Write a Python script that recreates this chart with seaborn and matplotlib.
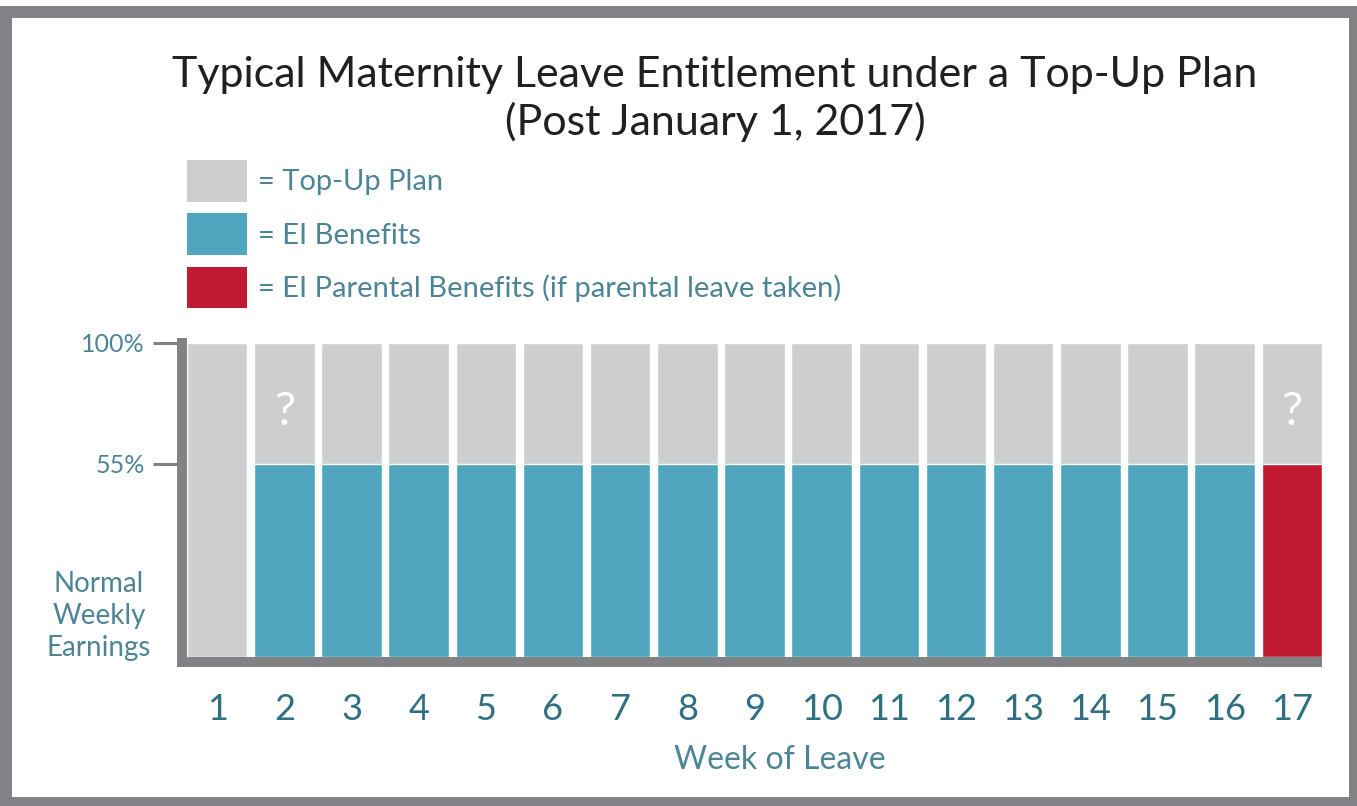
import numpy as np
import pandas as pd
import seaborn as sns
import matplotlib.pyplot as plt
from matplotlib.patches import Patch, Rectangle

weeks = [str(w) for w in range(1, 18)]
topup = [100] * 17
ei_weeks = weeks[1:]
ei_vals = [55] * 16
ei_type = ['EI Benefits'] * 15 + ['EI Parental Benefits']
question_weeks = ['2', '17']
ytick_vals = [55, 100]
ytick_labels = ['55%', '100%']

legend_labels = ['= Top-Up Plan', '= EI Benefits',
                 '= EI Parental Benefits (if parental leave taken)']

gray = '#cdced0'
blue = '#4fa6be'
red = '#bf1a32'
axis_gray = '#808285'
teal = '#2f6f83'
teal_light = '#4d8596'

sns.set_theme(style='white')
plt.rcParams['font.family'] = ['Lato', 'DejaVu Sans']

df_top = pd.DataFrame({'week': weeks, 'pct': topup})
df_ei = pd.DataFrame({'week': ei_weeks, 'pct': ei_vals, 'kind': ei_type})

W, H = 1357, 806
fig = plt.figure(figsize=(W / 100, H / 100), dpi=100)
fig.patch.set_facecolor('white')

# axes placed in pixel terms of the reference
ax = fig.add_axes([187 / W, (H - 657) / H, 1135 / W, 314 / H])

# uneven y axis: 55% sits higher than it would on a linear scale
yn = [-100, 0, 55, 100, 200]
yv = [-100, 0, 61.5, 100, 200]
ax.set_yscale('function', functions=(lambda y: np.interp(y, yn, yv),
                                     lambda y: np.interp(y, yv, yn)))

sns.barplot(data=df_top, x='week', y='pct', order=weeks, color=gray,
            width=0.9, saturation=1, ax=ax)
sns.barplot(data=df_ei, x='week', y='pct', order=weeks, hue='kind',
            palette={'EI Benefits': blue, 'EI Parental Benefits': red},
            dodge=False, width=0.9, saturation=1, legend=False, ax=ax)

for w in question_weeks:
    ax.text(weeks.index(w), (55 + 100) / 2 - 3, '?', color='white',
            fontsize=34, ha='center', va='center', zorder=5)

ax.set_xlim(-0.45, 16.45)
ax.set_ylim(0, 100)
ax.set_facecolor('white')

unit = 16.9 / 1135  # data units per pixel on x
for s in ['top', 'right']:
    ax.spines[s].set_visible(False)
ax.spines['left'].set_position(('outward', 3.6))
ax.spines['bottom'].set_position(('outward', 3.6))
for s in ['left', 'bottom']:
    ax.spines[s].set_color(axis_gray)
    ax.spines[s].set_linewidth(7.2)
ax.spines['bottom'].set_bounds(-0.45 - 10 * unit, 16.45)
ax.spines['bottom'].set_capstyle('butt')
ax.spines['left'].set_capstyle('projecting')

ax.set_yticks(ytick_vals)
ax.set_yticklabels(ytick_labels)
ax.yaxis.set_minor_locator(plt.NullLocator())
ax.tick_params(axis='y', length=21, width=2.2, color=axis_gray, pad=6,
               labelsize=18, labelcolor=teal_light, left=True, direction='out')
ax.tick_params(axis='x', length=0, pad=22, labelsize=26, labelcolor=teal)
ax.set_xlabel('Week of Leave', fontsize=23, color=teal_light)
ax.xaxis.set_label_coords((780 - 187) / 1135, -0.28)
ax.set_ylabel('')

fig.text(99 / W, 1 - 616 / H, 'Normal\nWeekly\nEarnings', ha='center',
         va='center', fontsize=20, color=teal_light, linespacing=1.3)

fig.text(715 / W, 1 - 99 / H,
         'Typical Maternity Leave Entitlement under a Top-Up Plan\n(Post January 1, 2017)',
         ha='center', va='center', fontsize=31, color='#231f20',
         linespacing=1.24)

handles = [Patch(facecolor=c, edgecolor='none') for c in [gray, blue, red]]
fig.legend(handles, legend_labels, loc='upper left',
           bbox_to_anchor=(187 / W, 1 - 160 / H), frameon=False,
           fontsize=21, handlelength=2.06, handleheight=1.82,
           labelspacing=0.4, handletextpad=0.38, borderpad=0,
           borderaxespad=0, labelcolor=teal_light)

fig.patches.append(Rectangle((6 / W, 3 / H), (1355 - 6) / W, (794 - 3) / H,
                             transform=fig.transFigure, fill=False,
                             edgecolor=axis_gray, linewidth=8.6))

fig.savefig('out.png', dpi=100)
